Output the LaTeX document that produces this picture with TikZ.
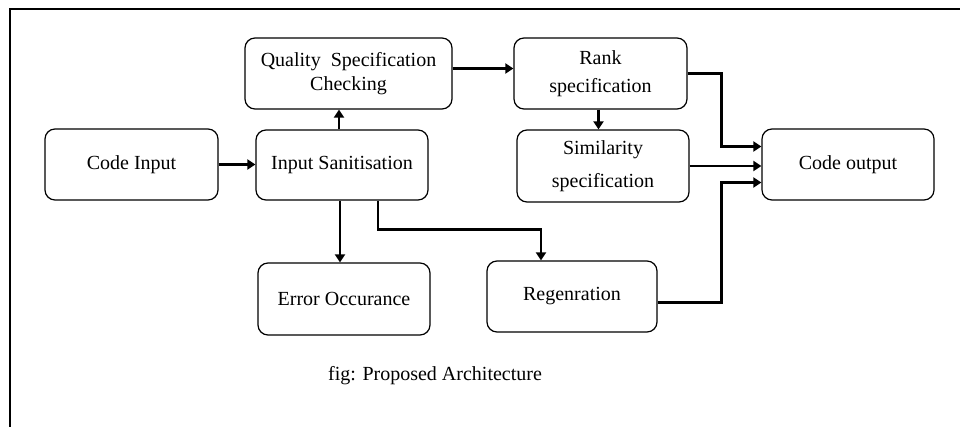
\documentclass[tikz,border=0pt]{standalone}
\usepackage{fontspec}
\setmainfont{Liberation Serif}
\usetikzlibrary{arrows.meta}
\begin{document}
\begin{tikzpicture}[x=1pt,y=-1pt,
  box/.style={draw, line width=1.2pt, rounded corners=10pt, inner sep=0pt, align=center,
              font=\fontsize{20}{24}\selectfont},
  arr/.style={line width=2.7pt, -{Triangle[length=8pt,width=10pt]}}]
\useasboundingbox (0,0) rectangle (960,427);
\clip (0,0) rectangle (960,427);
\fill[white] (0,0) rectangle (960,427);
\draw[line width=2.4pt] (10,9) rectangle (980,445);

\node[box, minimum width=173pt, minimum height=71pt] (ci)   at (131.5,164.5) {Code Input};
\node[box, minimum width=172pt, minimum height=70pt] (is)   at (342,165)     {Input Sanitisation};
\node[box, minimum width=207pt, minimum height=71pt] (qsc)  at (348.5,73.5)  {Quality~ Specification\\Checking};
\node[box, minimum width=173pt, minimum height=71pt] (rank) at (600.5,73.5)  {Rank\\[4pt]specification};
\node[box, minimum width=172pt, minimum height=72pt] (sim)  at (603,166)     {Similarity\\[9pt]specification};
\node[box, minimum width=172pt, minimum height=71pt] (co)   at (848,164.5)   {Code output};
\node[box, minimum width=172pt, minimum height=72pt] (err)  at (344,299)     {Error Occurance};
\node[box, minimum width=170pt, minimum height=71pt] (reg)  at (572,296.5)   {Regenration};
\node[font=\fontsize{20}{24}\selectfont] (cap) at (435,376) {fig: Proposed Architecture};

\draw[arr] (ci.east) -- (is.west |- ci.east);
\draw[arr] ([xshift=-3pt]is.north) coordinate (a1) -- (a1 |- qsc.south);
\draw[arr] ([yshift=5pt]qsc.east) -- ([yshift=5pt]rank.west);
\draw[arr] ([xshift=-2pt]rank.south) coordinate (a2) -- (a2 |- sim.north);
\draw[arr] (rank.east) -- ++(34,0) |- ([yshift=18pt]co.west);
\draw[arr] (sim.east) -- (sim.east -| co.west);
\draw[arr] ([yshift=-6pt]reg.east) -- ++(64,0) |- ([yshift=-18pt]co.west);
\draw[arr] ([xshift=-2pt]is.south) coordinate (a3) -- (a3 |- err.north);
\draw[arr] ([xshift=36pt]is.south) -- ++(0,29) -| ([xshift=-31pt]reg.north);
\end{tikzpicture}
\end{document}
